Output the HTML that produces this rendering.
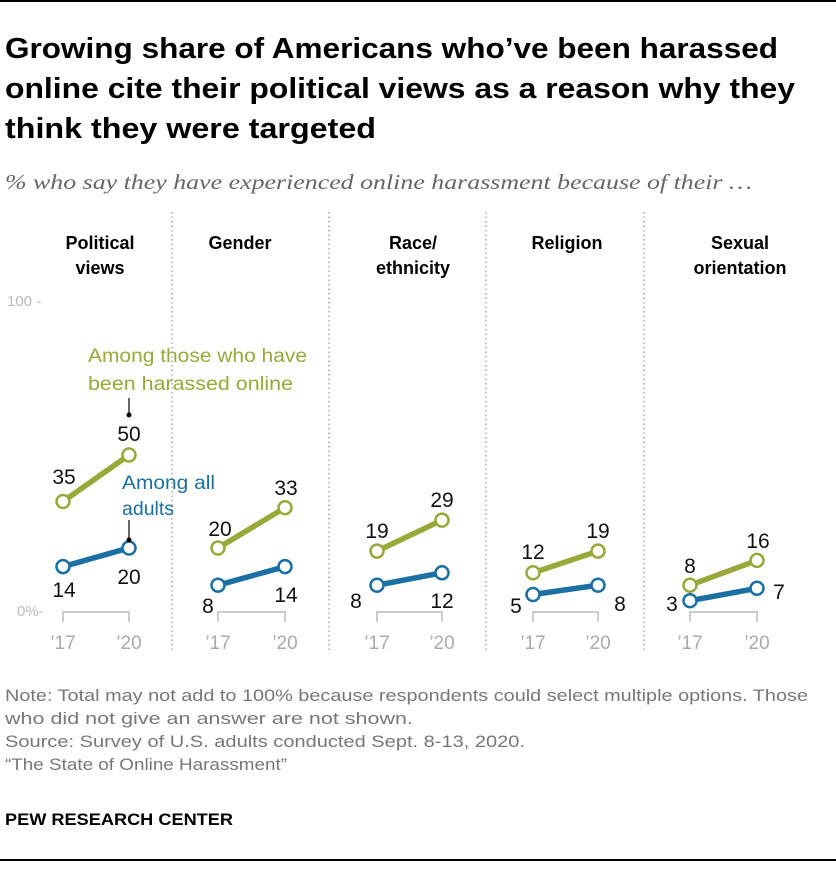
<!DOCTYPE html>
<html><head><meta charset="utf-8"><style>
body{margin:0;background:#fff;}
svg text{font-family:"Liberation Sans",sans-serif;}
</style></head><body>
<svg width="836" height="868" xmlns="http://www.w3.org/2000/svg">
<rect width="836" height="868" fill="#fff"/>
<line x1="0" y1="1" x2="836" y2="1" stroke="#000" stroke-width="2"/>
<line x1="0" y1="860" x2="836" y2="860" stroke="#000" stroke-width="2"/>
<g font-weight="bold" font-size="29" fill="#000">
<text x="5" y="58" textLength="773" lengthAdjust="spacingAndGlyphs">Growing share of Americans who’ve been harassed</text>
<text x="5" y="98" textLength="790" lengthAdjust="spacingAndGlyphs">online cite their political views as a reason why they</text>
<text x="5" y="138" textLength="371" lengthAdjust="spacingAndGlyphs">think they were targeted</text>
</g>
<text x="5" y="189" font-style="italic" font-size="21" fill="#666" style="font-family:'Liberation Serif',serif" textLength="747" lengthAdjust="spacingAndGlyphs">% who say they have experienced online harassment because of their …</text>
<g stroke="#999" stroke-width="1.3" stroke-dasharray="1.5,3">
<line x1="172" y1="212" x2="172" y2="650"/><line x1="329" y1="212" x2="329" y2="650"/>
<line x1="486" y1="212" x2="486" y2="650"/><line x1="644" y1="212" x2="644" y2="650"/>
</g>
<g font-weight="bold" font-size="18" fill="#000" text-anchor="middle">
<text x="100" y="249">Political</text><text x="100" y="274">views</text>
<text x="240" y="249">Gender</text>
<text x="413" y="249">Race/</text><text x="413" y="274">ethnicity</text>
<text x="567" y="249">Religion</text>
<text x="740" y="249">Sexual</text><text x="740" y="274">orientation</text>
</g>
<g font-size="15" fill="#bbb">
<text x="7" y="306">100 -</text><text x="17" y="616">0%-</text>
</g>
<g stroke="#bbb" stroke-width="1.5" fill="none">
<path d="M63,622V612H129V622"/><path d="M218,622V612H285V622"/><path d="M377,622V612H442V622"/><path d="M533,622V612H598V622"/><path d="M690,622V612H757V622"/>
</g>
<g font-size="19" fill="#aaa" text-anchor="middle">
<text x="63" y="649">’17</text><text x="129" y="649">’20</text>
<text x="218" y="649">’17</text><text x="285" y="649">’20</text>
<text x="377" y="649">’17</text><text x="442" y="649">’20</text>
<text x="533" y="649">’17</text><text x="598" y="649">’20</text>
<text x="690" y="649">’17</text><text x="757" y="649">’20</text>
</g>
<g stroke-width="5.5">
<line x1="63" y1="501.5" x2="129" y2="455" stroke="#9aa83a"/>
<line x1="63" y1="566.6" x2="129" y2="548" stroke="#1a6fa3"/>
<line x1="218" y1="548" x2="285" y2="507.7" stroke="#9aa83a"/>
<line x1="218" y1="585.2" x2="285" y2="566.6" stroke="#1a6fa3"/>
<line x1="377" y1="551.1" x2="442" y2="520.1" stroke="#9aa83a"/>
<line x1="377" y1="585.2" x2="442" y2="572.8" stroke="#1a6fa3"/>
<line x1="533" y1="572.8" x2="598" y2="551.1" stroke="#9aa83a"/>
<line x1="533" y1="594.5" x2="598" y2="585.2" stroke="#1a6fa3"/>
<line x1="690" y1="585.2" x2="757" y2="560.4" stroke="#9aa83a"/>
<line x1="690" y1="600.7" x2="757" y2="588.3" stroke="#1a6fa3"/>
</g>
<g fill="#fff" stroke-width="2.5">
<g stroke="#9aa83a">
<circle cx="63" cy="501.5" r="6.5"/><circle cx="129" cy="455" r="6.5"/>
<circle cx="218" cy="548" r="6.5"/><circle cx="285" cy="507.7" r="6.5"/>
<circle cx="377" cy="551.1" r="6.5"/><circle cx="442" cy="520.1" r="6.5"/>
<circle cx="533" cy="572.8" r="6.5"/><circle cx="598" cy="551.1" r="6.5"/>
<circle cx="690" cy="585.2" r="6.5"/><circle cx="757" cy="560.4" r="6.5"/>
</g>
<g stroke="#1a6fa3">
<circle cx="63" cy="566.6" r="6.5"/><circle cx="129" cy="548" r="6.5"/>
<circle cx="218" cy="585.2" r="6.5"/><circle cx="285" cy="566.6" r="6.5"/>
<circle cx="377" cy="585.2" r="6.5"/><circle cx="442" cy="572.8" r="6.5"/>
<circle cx="533" cy="594.5" r="6.5"/><circle cx="598" cy="585.2" r="6.5"/>
<circle cx="690" cy="600.7" r="6.5"/><circle cx="757" cy="588.3" r="6.5"/>
</g>
</g>
<line x1="129" y1="398" x2="129" y2="414" stroke="#000" stroke-width="1.2"/><circle cx="129" cy="415" r="2.5" fill="#000"/>
<line x1="129" y1="520" x2="129" y2="538" stroke="#000" stroke-width="1.2"/><circle cx="129" cy="540" r="2.5" fill="#000"/>
<g font-size="19.5" fill="#9aa83a">
<text x="88" y="362" textLength="219" lengthAdjust="spacingAndGlyphs">Among those who have</text><text x="88" y="390" textLength="205" lengthAdjust="spacingAndGlyphs">been harassed online</text>
</g>
<g font-size="19.5" fill="#1a6fa3">
<text x="122" y="489" textLength="93" lengthAdjust="spacingAndGlyphs">Among all</text><text x="122" y="515">adults</text>
</g>
<g font-size="21" fill="#111" text-anchor="middle">
<text x="64" y="484">35</text><text x="129" y="441">50</text>
<text x="64" y="597">14</text><text x="129" y="584">20</text>
<text x="220" y="536">20</text><text x="286" y="495">33</text>
<text x="208" y="613">8</text><text x="286" y="602">14</text>
<text x="377" y="538">19</text><text x="442" y="507">29</text>
<text x="356" y="608">8</text><text x="442" y="608">12</text>
<text x="533" y="559">12</text><text x="598" y="538">19</text>
<text x="516" y="613">5</text><text x="620" y="611">8</text>
<text x="690" y="573">8</text><text x="758" y="548">16</text>
<text x="672" y="611">3</text><text x="779" y="599">7</text>
</g>
<g font-size="16.5" fill="#777">
<text x="5" y="701" textLength="803" lengthAdjust="spacingAndGlyphs">Note: Total may not add to 100% because respondents could select multiple options. Those</text>
<text x="5" y="724" textLength="408" lengthAdjust="spacingAndGlyphs">who did not give an answer are not shown.</text>
<text x="5" y="747" textLength="520" lengthAdjust="spacingAndGlyphs">Source: Survey of U.S. adults conducted Sept. 8-13, 2020.</text>
<text x="5" y="770" textLength="282" lengthAdjust="spacingAndGlyphs">“The State of Online Harassment”</text>
</g>
<text x="5" y="825" font-size="17" font-weight="bold" fill="#000" textLength="228" lengthAdjust="spacingAndGlyphs">PEW RESEARCH CENTER</text>
</svg>
</body></html>
